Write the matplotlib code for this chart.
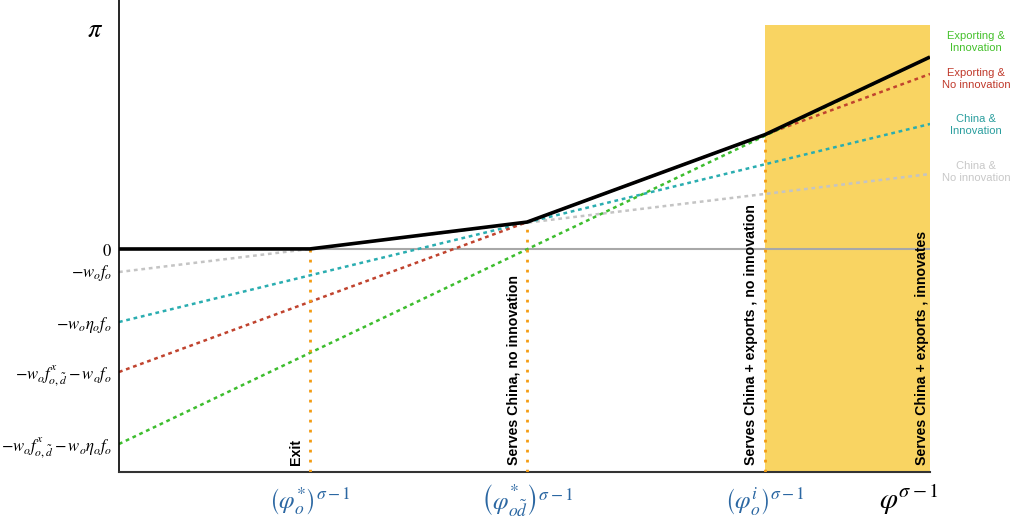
import numpy as np
import matplotlib
matplotlib.use("Agg")
import matplotlib.pyplot as plt
from matplotlib.patches import Rectangle

plt.rcParams['mathtext.fontset'] = 'stix'
plt.rcParams['font.family'] = ['Liberation Sans', 'DejaVu Sans']

# ---- data (arbitrary units) ----
x_max = 811
line_names = ["China &\nNo innovation", "China &\nInnovation",
              "Exporting &\nNo innovation", "Exporting &\nInnovation"]
line_start = [-23, -73, -123, -195]     # profit at x=0
line_end = [75, 125, 175, 192]          # profit at x=x_max
line_colors = ['#C4C4C4', '#2AADB0', '#C0432E', '#3DBD2E']
label_colors = ['#C8C8C8', '#2A9E9E', '#C0392B', '#45C12C']
label_y = [77, 124, 170, 207]

thresholds = [191, 408, 646]
threshold_labels = [r'$\left(\varphi_o^{*}\right)^{\sigma-1}$',
                    r'$\left(\varphi^{*}_{o\tilde{d}}\right)^{\sigma-1}$',
                    r'$\left(\varphi_o^{i}\right)^{\sigma-1}$']
regime_labels = ["Exit", "Serves China, no innovation",
                 "Serves China + exports , no innovation",
                 "Serves China + exports , innovates"]

ytick_vals = [0, -21, -73, -123, -195]
ytick_labels = [r'$0$', r'$-w_o f_o$', r'$-w_o \eta_o f_o$',
                r'$-w_o f^{x}_{o,\tilde{d}} - w_o f_o$',
                r'$-w_o f^{x}_{o,\tilde{d}} - w_o \eta_o f_o$']

y_min, y_max = -223, 249
shade_top = 224

# ---- figure ----
fig = plt.figure(figsize=(10.14, 5.30), dpi=100)
ax = fig.add_axes([119/1014, 1 - 472/530, 811/1014, 472/530])
ax.set_xlim(0, x_max)
ax.set_ylim(y_min, y_max)

# shaded region
ax.add_patch(Rectangle((thresholds[2], y_min), x_max - thresholds[2],
                       shade_top - y_min, facecolor='#F9D462',
                       edgecolor='none', zorder=0))

# zero line
ax.axhline(0, color='#A8A8A8', lw=1.5, zorder=1)

xs = np.array([0, x_max])
lines = []
for s, e, c in zip(line_start, line_end, line_colors):
    ys = np.array([s, e])
    lines.append((s, (e - s) / x_max))
    ax.plot(xs, ys, color=c, lw=1.8, linestyle=(0, (1.5, 1.5)), zorder=2)

# envelope
kx = np.array([0] + thresholds + [x_max], dtype=float)
env = np.zeros_like(kx)
for a, b in lines:
    env = np.maximum(env, a + b * kx)
ax.plot(kx, env, color='black', lw=2.6, zorder=5, solid_capstyle='butt')

# vertical orange dotted lines
for t, ev in zip(thresholds, env[1:-1]):
    ax.plot([t, t], [y_min, ev], color='#F39C12', lw=2.0,
            linestyle=(0, (1, 2.6)), zorder=3)

# regime labels
lab_x = [t - 14 for t in thresholds] + [x_max - 8]
for x, s in zip(lab_x, regime_labels):
    ax.text(x, y_min + 7, s, rotation=90, ha='center', va='bottom',
            fontsize=10.2, fontweight='bold', color='black', zorder=6)

# right labels
for s, c, y in zip(line_names, label_colors, label_y):
    ax.text(x_max + 46, y, s, ha='center', va='center', fontsize=8,
            color=c, clip_on=False, linespacing=1.3)

# axes styling
for sp in ['top', 'right']:
    ax.spines[sp].set_visible(False)
ax.spines['left'].set_linewidth(1.2)
ax.spines['bottom'].set_linewidth(1.5)
ax.spines['bottom'].set_color('#333333')

ax.set_yticks(ytick_vals)
ax.set_yticklabels(ytick_labels, fontsize=12)
ax.set_xticks(thresholds)
ax.set_xticklabels(threshold_labels, fontsize=18, color='#2B67A2', va='center')
ax.tick_params(axis='y', length=0, pad=5)
ax.tick_params(axis='x', length=0, pad=21)

ax.text(-24, 219, r'$\pi$', fontsize=19, ha='center', va='center', clip_on=False)
ax.text(790, -251, r'$\varphi^{\sigma-1}$', fontsize=21, ha='center',
        va='center', clip_on=False)

fig.savefig('out.png', dpi=100)
